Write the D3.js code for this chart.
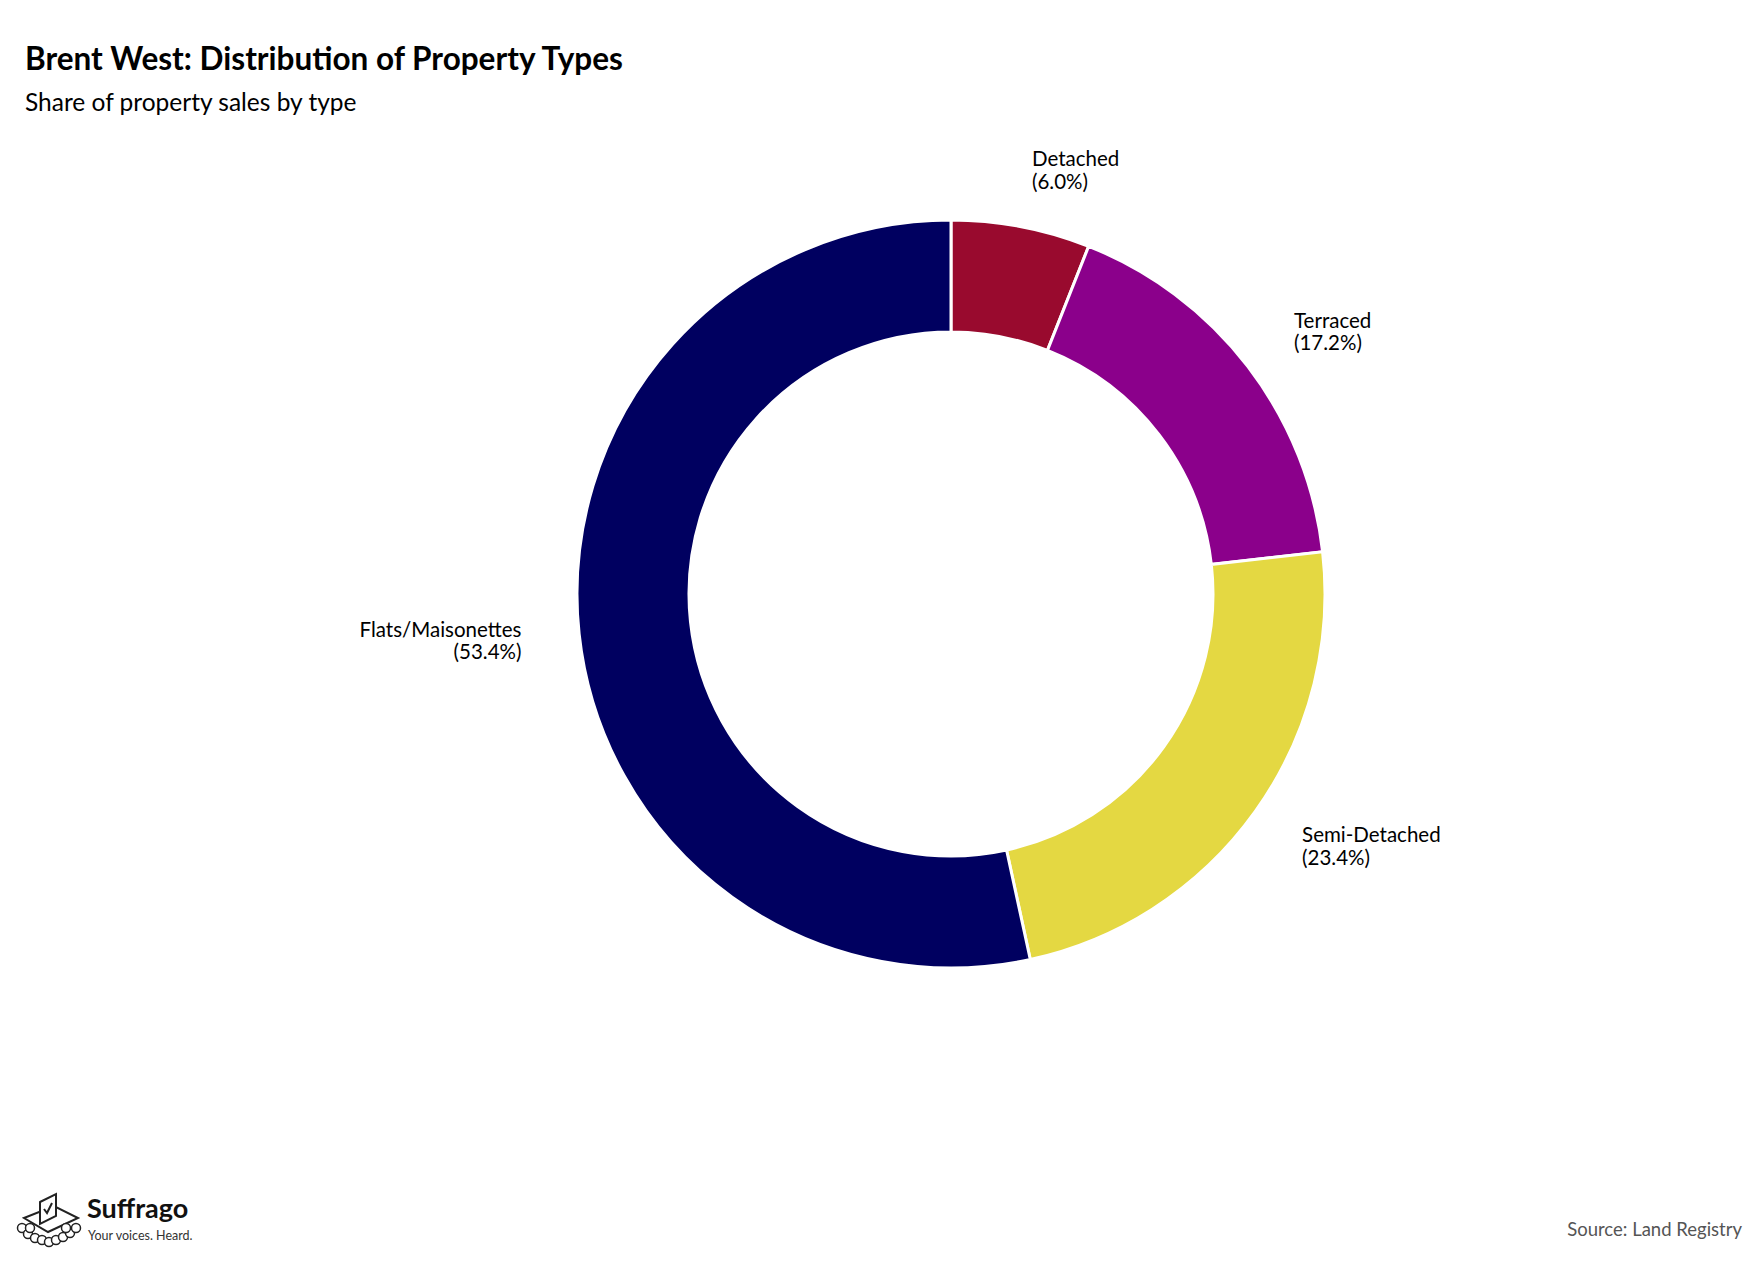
<!DOCTYPE html>
<html><head><meta charset="utf-8">
<script src="https://cdn.jsdelivr.net/npm/d3@7"></script>
<style>body{margin:0;background:#fff}text{font-family:Lato,sans-serif}</style>
</head><body><svg id="chart" width="1758" height="1265"></svg>
<script>
const categories = ['Detached', 'Terraced', 'Semi-Detached', 'Flats/Maisonettes']
const shares = [6.0, 17.2, 23.4, 53.4]
const colors = ['#990a2e', '#8b008b', '#e4d842', '#000060']

const svg = d3.select('#chart')
const cx = 951, cy = 594
const outerR = 374, innerR = 262, labelR = 432

svg.append('text').attr('x', 25).attr('y', 70).attr('font-size', '31.5px').attr('font-weight', 'bold')
    .text('Brent West: Distribution of Property Types')
svg.append('text').attr('x', 25).attr('y', 111).attr('font-size', '24.5px')
    .text('Share of property sales by type')

const data = categories.map((c, i) => ({name: c, value: shares[i], color: colors[i]}))
const pie = d3.pie().value(d => d.value).sort(null)
const arc = d3.arc().innerRadius(innerR).outerRadius(outerR)
const labelArc = d3.arc().innerRadius(labelR).outerRadius(labelR)

const g = svg.append('g').attr('transform', `translate(${cx}, ${cy})`)
const arcs = pie(data)

g.selectAll('path').data(arcs).enter().append('path')
    .attr('d', arc)
    .attr('fill', d => d.data.color)
    .attr('stroke', '#fff')
    .attr('stroke-width', 3)

const labels = g.selectAll('.lbl').data(arcs).enter().append('text')
    .attr('class', 'lbl')
    .attr('font-size', '20.5px')
    .attr('text-anchor', d => (d.startAngle + d.endAngle) / 2 < Math.PI ? 'start' : 'end')
    .attr('transform', d => `translate(${labelArc.centroid(d)})`)
labels.append('tspan').attr('x', 0).attr('dy', '-0.17em').text(d => d.data.name)
labels.append('tspan').attr('x', 0).attr('dy', '1.1em').text(d => `(${d.data.value.toFixed(1)}%)`)

svg.append('text').attr('x', 1742).attr('y', 1236).attr('text-anchor', 'end')
    .attr('font-size', '18.5px').attr('fill', '#555').text('Source: Land Registry')

//logo
const logo = svg.append('g').attr('transform', 'translate(16, 1190)')
logo.append('path').attr('d', 'M8,28 L38,16 L62,28 L32,42 Z').attr('fill', 'none').attr('stroke', '#222').attr('stroke-width', 2)
logo.append('path').attr('d', 'M24,12 L40,4 L40,26 L24,34 Z').attr('fill', '#fff').attr('stroke', '#222').attr('stroke-width', 2)
logo.append('path').attr('d', 'M28,19 L31,23 L36,13').attr('fill', 'none').attr('stroke', '#222').attr('stroke-width', 2)
const heads = [[6,38],[12,44],[19,48],[26,50],[33,52],[40,50],[47,47],[54,43],[60,38],[14,38],[50,38]]
logo.selectAll('circle').data(heads).enter().append('circle')
    .attr('cx', d => d[0]).attr('cy', d => d[1]).attr('r', 4.5)
    .attr('fill', '#fff').attr('stroke', '#222').attr('stroke-width', 1.5)
svg.append('text').attr('x', 87).attr('y', 1218).attr('font-family', '"Open Sans", sans-serif')
    .attr('font-size', '27px').attr('font-weight', 'bold').attr('fill', '#111').text('Suffrago')
svg.append('text').attr('x', 88).attr('y', 1240).attr('font-family', '"Open Sans", sans-serif')
    .attr('font-size', '12.5px').attr('fill', '#333').text('Your voices. Heard.')
</script></body></html>
